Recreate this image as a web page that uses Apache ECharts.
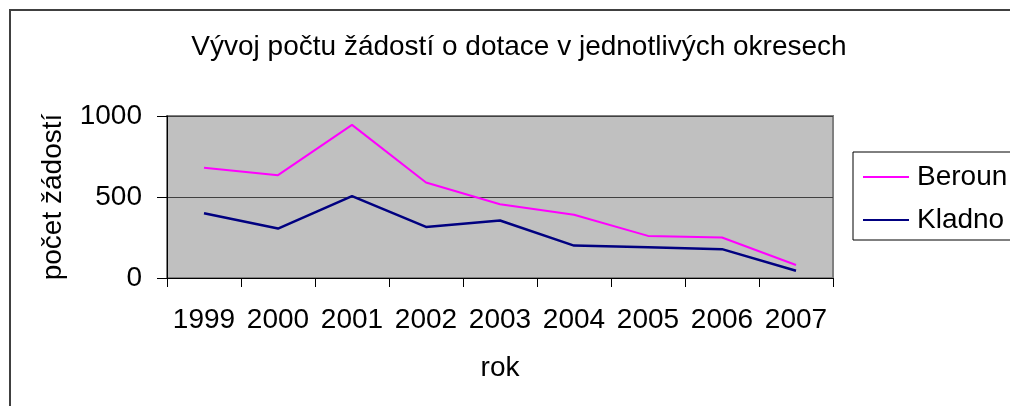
<!DOCTYPE html>
<html>
<head>
<meta charset="utf-8">
<script src="https://cdn.jsdelivr.net/npm/echarts@6/dist/echarts.min.js"></script>
<style>
  html, body { margin: 0; padding: 0; background: #fff; }
  #chart { width: 1010px; height: 406px; }
</style>
</head>
<body>
<div id="chart"></div>
<script>
// roky
var years = ['1999', '2000', '2001', '2002', '2003', '2004', '2005', '2006', '2007'];
// počet žádostí
var beroun = [680, 635, 945, 590, 455, 390, 260, 250, 80];
var kladno = [400, 305, 505, 315, 355, 200, 190, 178, 45];

var font = 'Liberation Sans, Arial, sans-serif';

var chart = echarts.init(document.getElementById('chart'));
chart.setOption({
  animation: false,
  backgroundColor: '#fff',
  textStyle: { fontFamily: font },
  title: {
    text: 'Vývoj počtu žádostí o dotace v jednotlivých okresech',
    left: 514,
    top: 28,
    textAlign: 'center',
    textStyle: { fontFamily: font, fontSize: 28, fontWeight: 'normal', color: '#000' }
  },
  graphic: [{
    type: 'rect',
    shape: { x: 10, y: 10, width: 1020, height: 420 },
    style: { fill: 'none', stroke: '#404040', lineWidth: 2 }
  }],
  legend: {
    left: 853,
    top: 152,
    orient: 'vertical',
    icon: 'rect',
    itemWidth: 46,
    itemHeight: 2,
    itemGap: 15,
    padding: [11, 60, 6, 10],
    borderColor: '#000',
    borderWidth: 1,
    textStyle: { fontFamily: font, fontSize: 28, color: '#000', padding: [0, 0, 0, 3] },
    data: ['Beroun', 'Kladno']
  },
  grid: {
    left: 167,
    right: 177,
    top: 116,
    bottom: 128,
    show: true,
    backgroundColor: '#c0c0c0',
    borderColor: '#808080',
    borderWidth: 2
  },
  xAxis: {
    type: 'category',
    data: years,
    boundaryGap: true,
    name: 'rok',
    nameLocation: 'middle',
    nameGap: 76,
    nameTextStyle: { fontFamily: font, fontSize: 28, color: '#000' },
    axisLine: { lineStyle: { color: '#000', width: 1 } },
    axisTick: { show: true, interval: 0, length: 9, lineStyle: { color: '#000' } },
    axisLabel: { interval: 0, hideOverlap: false, fontFamily: font, fontSize: 28, color: '#000', margin: 28 },
    splitLine: { show: false }
  },
  yAxis: {
    type: 'value',
    min: 0,
    max: 1000,
    interval: 500,
    name: 'počet žádostí',
    nameLocation: 'middle',
    nameGap: 100,
    nameRotate: 90,
    nameTextStyle: { fontFamily: font, fontSize: 28, color: '#000' },
    axisLine: { show: true, lineStyle: { color: '#000', width: 1 } },
    axisTick: { show: true, length: 10, lineStyle: { color: '#000' } },
    axisLabel: {
      fontFamily: font, fontSize: 28, color: '#000', margin: 25,
      formatter: function (v) { return String(v); }
    },
    splitLine: { show: true, lineStyle: { color: '#404040', width: 1 } }
  },
  series: [
    {
      name: 'Beroun',
      type: 'line',
      data: beroun,
      symbol: 'none',
      color: '#ff00ff',
      lineStyle: { color: '#ff00ff', width: 2 }
    },
    {
      name: 'Kladno',
      type: 'line',
      data: kladno,
      symbol: 'none',
      color: '#000080',
      lineStyle: { color: '#000080', width: 2.5 }
    }
  ]
});
</script>
</body>
</html>
